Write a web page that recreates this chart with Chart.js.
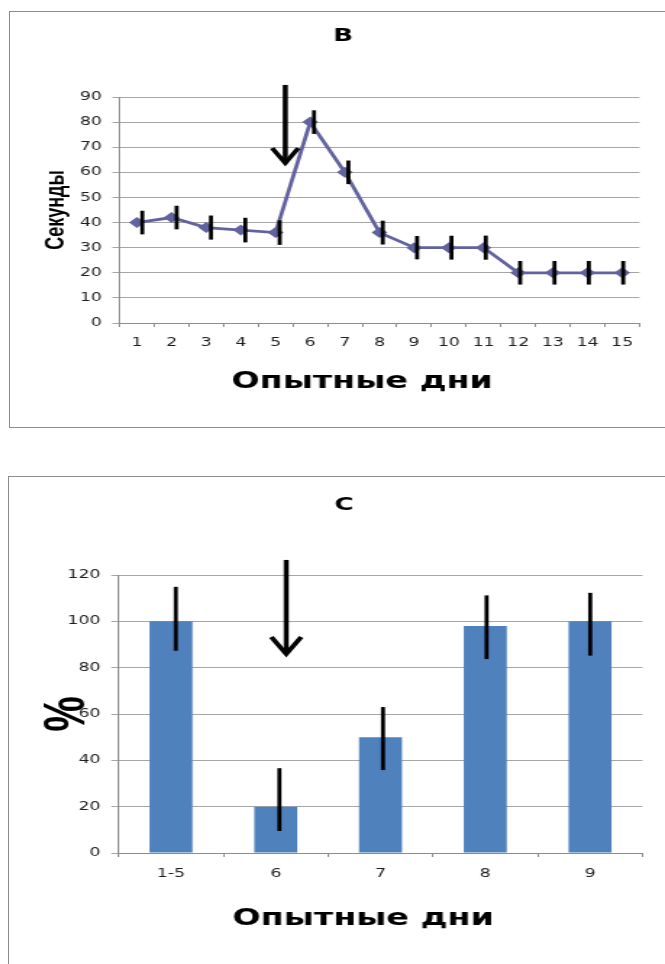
<!DOCTYPE html>
<html>
<head>
<meta charset="utf-8">
<title>Опытные дни</title>
<script src="https://cdn.jsdelivr.net/npm/chart.js@4.4.1/dist/chart.umd.min.js"></script>
<style>
    html, body { margin: 0; padding: 0; background: #fff; overflow: hidden; }
    body { width: 665px; height: 964px; position: relative; }
    .frame { position: absolute; border: 1px solid #8c8c8c; background: #fff; }
    #frameB { left: 9px; top: 11px; width: 720px; height: 415px; }
    #frameC { left: 8px; top: 476px; width: 720px; height: 520px; }
    canvas { position: absolute; left: 0; top: 0; }
</style>
</head>
<body>
<!-- the reference picture is stretched sideways, so the canvases are too (inline size wins over Chart.js) -->
<div class="frame" id="frameB"><canvas id="chartB" width="452" height="415" style="width:655px;height:415px"></canvas></div>
<div class="frame" id="frameC"><canvas id="chartC" width="453" height="487" style="width:656px;height:487px"></canvas></div>

<script>
// Panel B - seconds per experimental day
const daysB = ['1', '2', '3', '4', '5', '6', '7', '8', '9', '10', '11', '12', '13', '14', '15'];
const secondsB = [40, 42, 38, 37, 36, 80, 60, 36, 30, 30, 30, 20, 20, 20, 20];
const errB = [4.7, 4.7, 4.8, 4.9, 4.9, 4.7, 4.7, 4.75, 4.65, 4.75, 4.8, 4.7, 4.7, 4.7, 4.7];
const yMinB = 0, yMaxB = 90, yStepB = 10;

// Panel C - percent per experimental day
const daysC = ['1-5', '6', '7', '8', '9'];
const percentC = [100, 20, 50, 98, 100];
const errLowC = [87.3, 9.5, 35.8, 83.7, 85.2];
const errHighC = [114.9, 36.6, 63.0, 111.2, 112.3];
const yMinC = 0, yMaxC = 120, yStepC = 20;

// arrow marks (category index, value at top, value at tip)
const arrowB = { x: 4.28, top: 94.8, tip: 63.7 };
const arrowC = { x: 1.1, top: 126.5, tip: 85.9 };

const lineColor = '#62629f';
const barColor = '#4f81bd';
const gridColor = '#a6a6a6';
const axisColor = '#8c8c8c';
const tickColor = '#1e1e1e';

Chart.defaults.font.family = 'DejaVu Sans';

function makeErrorBars(low, high, shiftStart, shiftStep) {
    return {
        id: 'errorBars',
        afterDatasetsDraw(chart) {
            const { ctx, scales: { x, y } } = chart;
            ctx.save();
            ctx.strokeStyle = '#000';
            ctx.lineWidth = 2.8;
            low.forEach((lo, i) => {
                const px = x.getPixelForValue(i) + shiftStart + shiftStep * i;
                ctx.beginPath();
                ctx.moveTo(px, y.getPixelForValue(high[i]));
                ctx.lineTo(px, y.getPixelForValue(lo));
                ctx.stroke();
            });
            ctx.restore();
        }
    };
}

function makeArrow(arrow, halfW, headH) {
    return {
        id: 'arrow',
        afterDraw(chart) {
            const { ctx, scales: { x, y } } = chart;
            const px = x.getPixelForValue(arrow.x);
            const yTop = y.getPixelForValue(arrow.top);
            const yTip = y.getPixelForValue(arrow.tip);
            ctx.save();
            ctx.strokeStyle = '#000';
            ctx.lineWidth = 3.5;
            ctx.beginPath();
            ctx.moveTo(px, yTop);
            ctx.lineTo(px, yTip - 3);
            ctx.stroke();
            ctx.lineJoin = 'miter';
            ctx.beginPath();
            ctx.moveTo(px - halfW, yTip - headH);
            ctx.lineTo(px, yTip);
            ctx.lineTo(px + halfW, yTip - headH);
            ctx.stroke();
            ctx.restore();
        }
    };
}

const tickFont = { family: 'DejaVu Sans', size: 12 };
const xTitleFont = { family: 'DejaVu Sans', size: 23, weight: 'bold' };
const panelFont = { family: 'DejaVu Sans', size: 18, weight: 'bold' };

// Panel B chart
new Chart(document.getElementById('chartB'), {
    type: 'line',
    data: {
        labels: daysB,
        datasets: [{
            data: secondsB,
            borderColor: lineColor,
            backgroundColor: lineColor,
            borderWidth: 2.75,
            pointStyle: 'rectRot',
            pointRadius: 5.5,
            pointBorderWidth: 0,
            tension: 0
        }]
    },
    options: {
        responsive: false,
        animation: false,
        devicePixelRatio: 1,
        layout: { padding: { left: 25.2, right: 17.6, top: 0, bottom: 0 } },
        plugins: {
            legend: { display: false },
            tooltip: { enabled: false },
            title: {
                display: true,
                text: 'B',
                color: '#000',
                font: panelFont,
                padding: { top: 13.2, bottom: 50.2 }
            }
        },
        scales: {
            x: {
                offset: true,
                grid: { offset: true, drawOnChartArea: false, tickLength: 4, color: axisColor },
                border: { color: axisColor },
                ticks: { font: tickFont, color: tickColor, padding: 8.3, maxRotation: 0, autoSkip: false },
                title: {
                    display: true,
                    text: 'Опытные дни\u00a0\u00a0\u00a0',
                    color: '#000',
                    font: xTitleFont,
                    padding: { top: 0, bottom: 31 }
                },
                afterFit: s => { s.height = 104; }
            },
            y: {
                min: yMinB,
                max: yMaxB,
                grid: { color: gridColor, tickLength: 5 },
                border: { color: axisColor },
                ticks: { stepSize: yStepB, font: tickFont, color: tickColor, padding: 7.1 },
                title: {
                    display: true,
                    text: 'Секунды',
                    color: '#000',
                    font: { family: 'Liberation Sans', size: 18, weight: 'bold' },
                    padding: { top: -4.3, bottom: 0 }
                },
                afterFit: s => { s.width = 50.4; }
            }
        }
    },
    plugins: [makeErrorBars(secondsB.map((v, i) => v - errB[i]), secondsB.map((v, i) => v + errB[i]), 3.7, -0.214),
              makeArrow(arrowB, 9, 15)]
});

// Panel C chart
new Chart(document.getElementById('chartC'), {
    type: 'bar',
    data: {
        labels: daysC,
        datasets: [{
            data: percentC,
            backgroundColor: barColor,
            borderWidth: 0,
            barPercentage: 0.41,
            categoryPercentage: 1
        }]
    },
    options: {
        responsive: false,
        animation: false,
        devicePixelRatio: 1,
        layout: { padding: { left: 25.4, right: 15.6, top: 0, bottom: 0 } },
        plugins: {
            legend: { display: false },
            tooltip: { enabled: false },
            title: {
                display: true,
                text: 'C',
                color: '#000',
                font: panelFont,
                padding: { top: 17.7, bottom: 58.7 }
            }
        },
        scales: {
            x: {
                grid: { offset: true, drawOnChartArea: false, tickLength: 4, color: axisColor },
                border: { color: axisColor },
                ticks: { font: tickFont, color: tickColor, padding: 9.3, maxRotation: 0, autoSkip: false },
                title: {
                    display: true,
                    text: 'Опытные дни\u00a0\u00a0\u00a0',
                    color: '#000',
                    font: xTitleFont,
                    padding: { top: 0, bottom: 31.5 }
                },
                afterFit: s => { s.height = 111; }
            },
            y: {
                min: yMinC,
                max: yMaxC,
                grid: { color: gridColor, tickLength: 5 },
                border: { color: axisColor },
                ticks: { stepSize: yStepC, font: tickFont, color: tickColor, padding: 7.5 },
                title: {
                    display: true,
                    text: '%',
                    color: '#000',
                    font: { family: 'Liberation Sans', size: 40, weight: 'bold' },
                    padding: { top: -8.9, bottom: 0 }
                },
                afterFit: s => { s.width = 50.3; }
            }
        }
    },
    plugins: [makeErrorBars(errLowC, errHighC, 3.3, -0.8), makeArrow(arrowC, 10.3, 17)]
});
</script>
</body>
</html>
